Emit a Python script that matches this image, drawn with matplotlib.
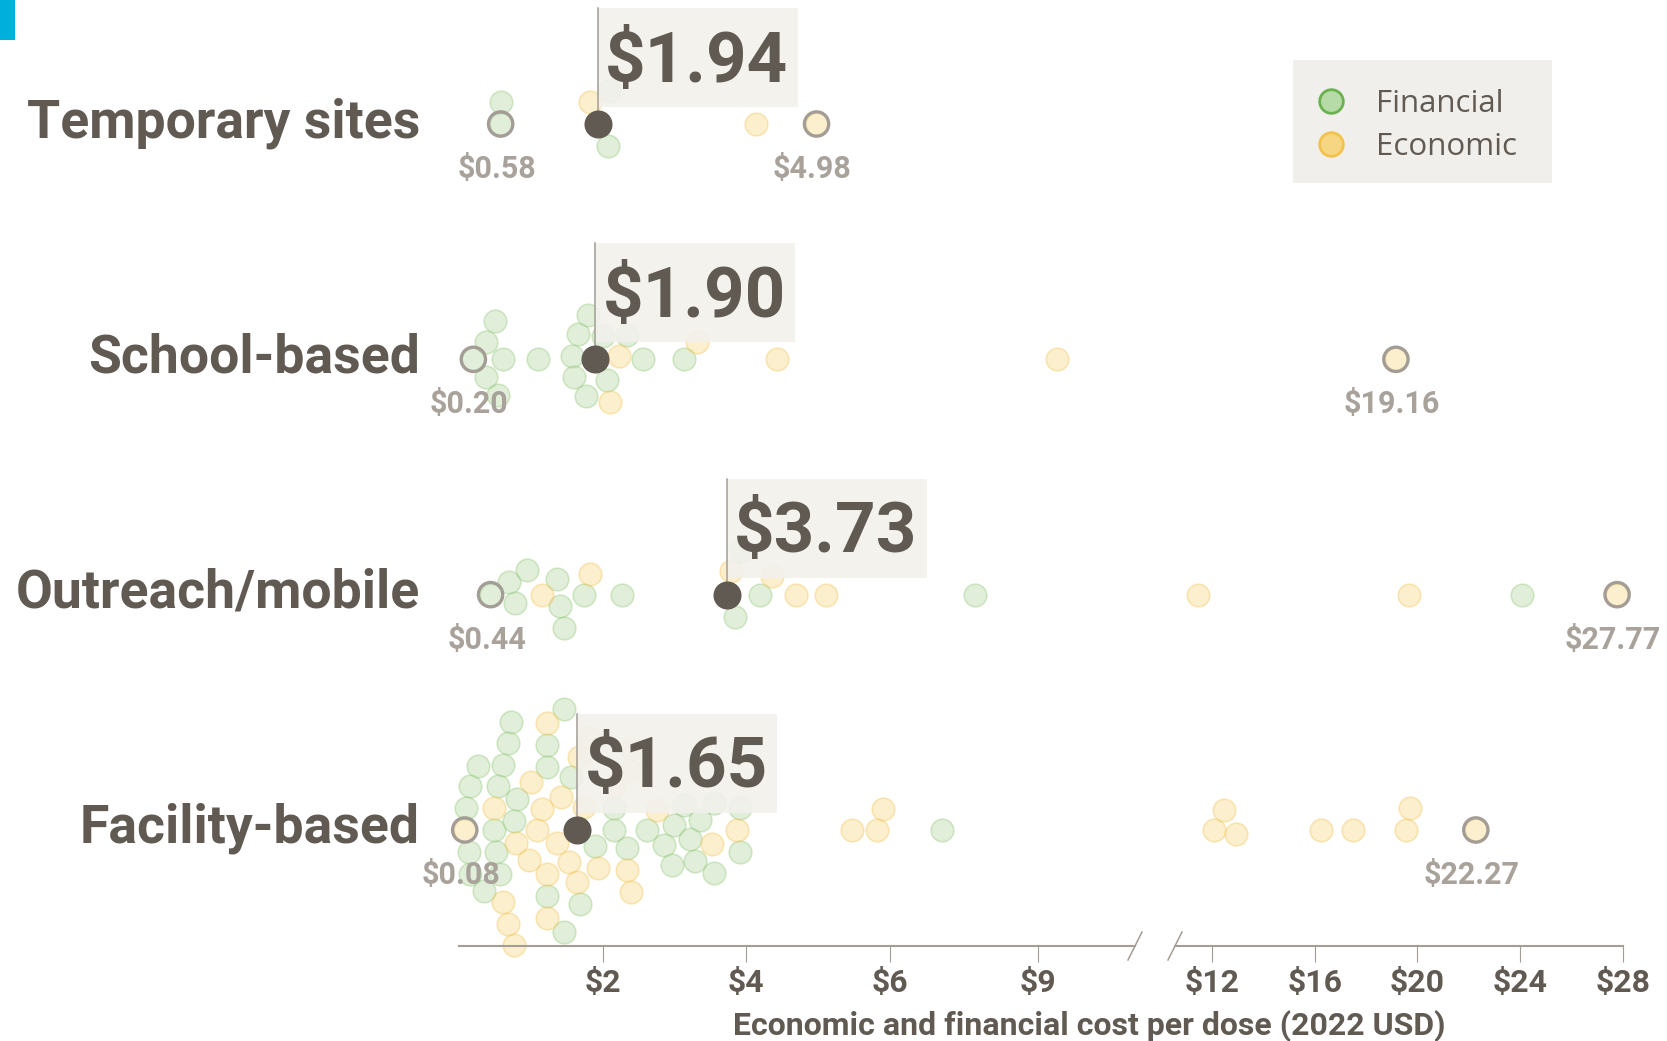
import numpy as np
import matplotlib
matplotlib.use("Agg")
import matplotlib.pyplot as plt
from matplotlib.patches import Rectangle
from matplotlib.transforms import Affine2D

# datos
rows = ["Temporary sites", "School-based", "Outreach/mobile", "Facility-based"]

financial = [
    [0.58, 0.59, 2.07, 2.09],
    [0.20, 0.55, 0.38, 0.61, 0.38, 0.50, 1.10, 1.66, 1.57, 1.77, 1.79, 1.60,
     2.00, 2.34, 2.06, 2.56, 3.13],
    [0.44, 0.69, 0.95, 0.78, 1.37, 1.41, 1.46, 1.74, 2.27, 3.85, 3.93, 4.19,
     7.72, 24.08],
    [0.61, 0.54, 0.16, 0.49, 0.81, 0.27, 0.10, 0.72, 0.16, 0.68, 1.23, 0.35,
     0.14, 0.77, 0.51, 0.57, 1.23, 1.56, 1.90, 1.23, 1.46, 1.46, 1.69, 2.16,
     2.62, 2.16, 2.34, 2.85, 2.97, 3.13, 2.99, 3.22, 3.29, 3.36, 3.55, 3.55,
     3.92, 3.92, 7.06],
]
economic = [
    [1.82, 4.13, 4.98],
    [2.11, 2.23, 3.31, 4.43, 9.38, 19.16],
    [1.15, 1.83, 3.79, 4.36, 4.70, 5.11, 11.46, 19.66, 27.77],
    [0.08, 0.77, 0.61, 0.49, 0.98, 0.79, 1.09, 0.68, 1.00, 1.23, 1.67, 1.42,
     1.23, 1.22, 1.16, 1.37, 1.74, 1.79, 1.53, 1.65, 1.93, 2.16, 2.39, 2.39,
     2.34, 2.41, 2.76, 3.52, 3.87, 5.47, 5.82, 5.90, 12.09, 12.46, 12.93,
     16.23, 17.49, 19.54, 19.69, 22.27],
]
median_cost = [1.94, 1.90, 3.73, 1.65]

left_ticks = [2, 4, 6, 9]
right_ticks = [12, 16, 20, 24, 28]

# colores
DARK = "#615a53"
GREY = "#a39d96"
GREY_TXT = "#a8a29b"
FIN_FACE = (0.71, 0.85, 0.64, 0.40)
FIN_EDGE = (0.55, 0.77, 0.45, 0.35)
ECO_FACE = (0.97, 0.84, 0.50, 0.38)
ECO_EDGE = (0.95, 0.76, 0.30, 0.35)

NUM_FONT = "Roboto"

W, H = 1667, 1041
fig = plt.figure(figsize=(W / 100, H / 100), dpi=100)

AX_BOTTOM = 95          # px desde abajo (linea del eje)
AX_H = H - AX_BOTTOM
ax_l = fig.add_axes([459 / W, AX_BOTTOM / H, 676 / W, AX_H / H])
ax_r = fig.add_axes([1175 / W, AX_BOTTOM / H, 448 / W, AX_H / H])

# escala por tramos en el lado izquierdo (6 a 9 comprimido)
K = 0.69


def fwd(v):
    v = np.asarray(v, float)
    return np.where(v <= 6, v, 6 + (v - 6) * K)


def inv(u):
    u = np.asarray(u, float)
    return np.where(u <= 6, u, 6 + (u - 6) / K)


ax_l.set_xscale("function", functions=(fwd, inv))
ax_l.set_xlim(0, 10.95)
ax_r.set_xlim(10.56, 28)

# filas: 235.3 px por unidad
PX = 235.3
y_top = -124 / PX
y_bot = 3 + (AX_H - 830) / PX
for ax in (ax_l, ax_r):
    ax.set_ylim(y_bot, y_top)
    ax.set_facecolor("none")
    for s in ("top", "right", "left"):
        ax.spines[s].set_visible(False)
    ax.spines["bottom"].set_color(GREY)
    ax.spines["bottom"].set_linewidth(1.5)
    ax.set_yticks([])
    ax.tick_params(axis="x", length=11.5, width=0.8, color=GREY, pad=4,
                   labelsize=23, labelcolor=DARK)

ax_l.set_xticks(left_ticks, [f"${t}" for t in left_ticks],
                fontfamily=NUM_FONT, fontweight="bold")
ax_r.set_xticks(right_ticks, [f"${t}" for t in right_ticks],
                fontfamily=NUM_FONT, fontweight="bold")

SPLIT = 10.7


def pick_ax(v):
    return ax_l if v <= SPLIT else ax_r


def to_px(v):
    return pick_ax(v).transData.transform((v, 0))[0]


def beeswarm(xs, first, obstacles, d):
    # colocacion tipo enjambre en pixeles (positivo = arriba)
    placed = [(x, 0.0, dd) for x, dd in obstacles]
    out = np.zeros(len(xs))
    order = list(first) + [i for i in np.argsort(xs, kind="stable") if i not in first]
    for i in order:
        x = xs[i]
        cands = [0.0]
        if i not in first:
            for px, py, dd in placed:
                dx = abs(x - px)
                if dx < dd:
                    dy = np.sqrt(dd ** 2 - dx ** 2)
                    cands += [py + dy, py - dy]
            cands.sort(key=lambda c: (abs(c), -c))
            for c in cands:
                if all((x - px) ** 2 + (c - py) ** 2 >= dd ** 2 - 1e-6
                       for px, py, dd in placed):
                    out[i] = c
                    break
        placed.append((x, out[i], d))
    return out


for r, name in enumerate(rows):
    vals = np.array(financial[r] + economic[r])
    kind = np.array(["f"] * len(financial[r]) + ["e"] * len(economic[r]))
    xs = np.array([to_px(v) for v in vals])
    i_min, i_max = int(np.argmin(vals)), int(np.argmax(vals))
    med = median_cost[r]
    offs = beeswarm(xs, [i_min, i_max], [(to_px(med), 24.0)], 22.0)
    ys = r - offs / PX

    for k, face, edge in (("f", FIN_FACE, FIN_EDGE), ("e", ECO_FACE, ECO_EDGE)):
        for ax in (ax_l, ax_r):
            m = (kind == k) & np.array([pick_ax(v) is ax for v in vals])
            ax.scatter(vals[m], ys[m], s=16.3 ** 2, facecolor=face,
                       edgecolor=edge, linewidth=1.2, zorder=2, clip_on=False)

    # minimo y maximo
    for i in (i_min, i_max):
        ax = pick_ax(vals[i])
        ax.scatter([vals[i]], [ys[i]], s=17.5 ** 2, facecolor="none",
                   edgecolor=GREY, linewidth=2.4, zorder=3, clip_on=False)
        ax.annotate(f"${vals[i]:.2f}", xy=(vals[i], ys[i]), xytext=(-4, -45),
                    textcoords="offset pixels", ha="center", va="center",
                    fontsize=22, fontweight="bold", color=GREY_TXT,
                    fontfamily=NUM_FONT, annotation_clip=False, zorder=7)

    # mediana con caja
    ax = pick_ax(med)
    xd, yd = ax.transData.transform((med, r))
    box = Rectangle((xd, yd + 17), 200, 99, transform=Affine2D(),
                    facecolor="#f2f1ec", edgecolor="none", alpha=0.9,
                    zorder=4, clip_on=False)
    ax.add_patch(box)
    ax.plot([med, med], [r, r - 116 / PX], color=GREY, lw=1.1, zorder=5,
            clip_on=False)
    ax.scatter([med], [r], s=19.2 ** 2, color=DARK, zorder=6, clip_on=False)
    ax.annotate(f"${med:.2f}", xy=(med, r), xytext=(7, 17 + 45),
                textcoords="offset pixels", ha="left", va="center",
                fontsize=51, fontweight="bold", color=DARK,
                fontfamily=NUM_FONT, annotation_clip=False, zorder=7)

    # etiqueta de la fila
    ax_l.annotate(name, xy=(0, r), xycoords=ax_l.get_yaxis_transform(),
                  xytext=(-39, -13), textcoords="offset pixels", ha="right",
                  va="baseline", fontsize=38.5, fontweight="bold", color=DARK,
                  fontfamily="Roboto", annotation_clip=False)

# marcas de corte del eje
for ax, xa in ((ax_l, 1.0), (ax_r, 0.0)):
    dx = 7 / (ax.get_position().width * W)
    dy = 14 / AX_H
    ax.plot([xa - dx, xa + dx], [-dy, dy], transform=ax.transAxes,
            color=GREY, lw=1.1, clip_on=False)

fig.text(1089 / W, 15 / H, "Economic and financial cost per dose (2022 USD)",
         ha="center", va="center", fontsize=23, fontweight="bold",
         color=DARK, fontfamily=NUM_FONT)

# leyenda
fig.add_artist(Rectangle((1293 / W, 1 - 183 / H), 259 / W, 123 / H,
                         transform=fig.transFigure, facecolor="#f0efeb",
                         edgecolor="none"))
for label, face, edge, yy in (("Financial", "#b7dba6", "#6cb150", 101),
                              ("Economic", "#f7d683", "#f2c34a", 144)):
    fig.add_artist(plt.Line2D([1331 / W], [1 - yy / H], marker="o",
                              markersize=17, markerfacecolor=face,
                              markeredgecolor=edge, markeredgewidth=2,
                              transform=fig.transFigure))
    fig.text(1376 / W, 1 - (yy + 3) / H, label, ha="left", va="center",
             fontsize=22.5, color=DARK, fontfamily="Open Sans")

# barra azul
fig.add_artist(Rectangle((0, 1 - 40 / H), 15 / W, 40 / H,
                         transform=fig.transFigure, facecolor="#00b0dc",
                         edgecolor="none"))

fig.savefig("out.png", dpi=100, facecolor="white")
